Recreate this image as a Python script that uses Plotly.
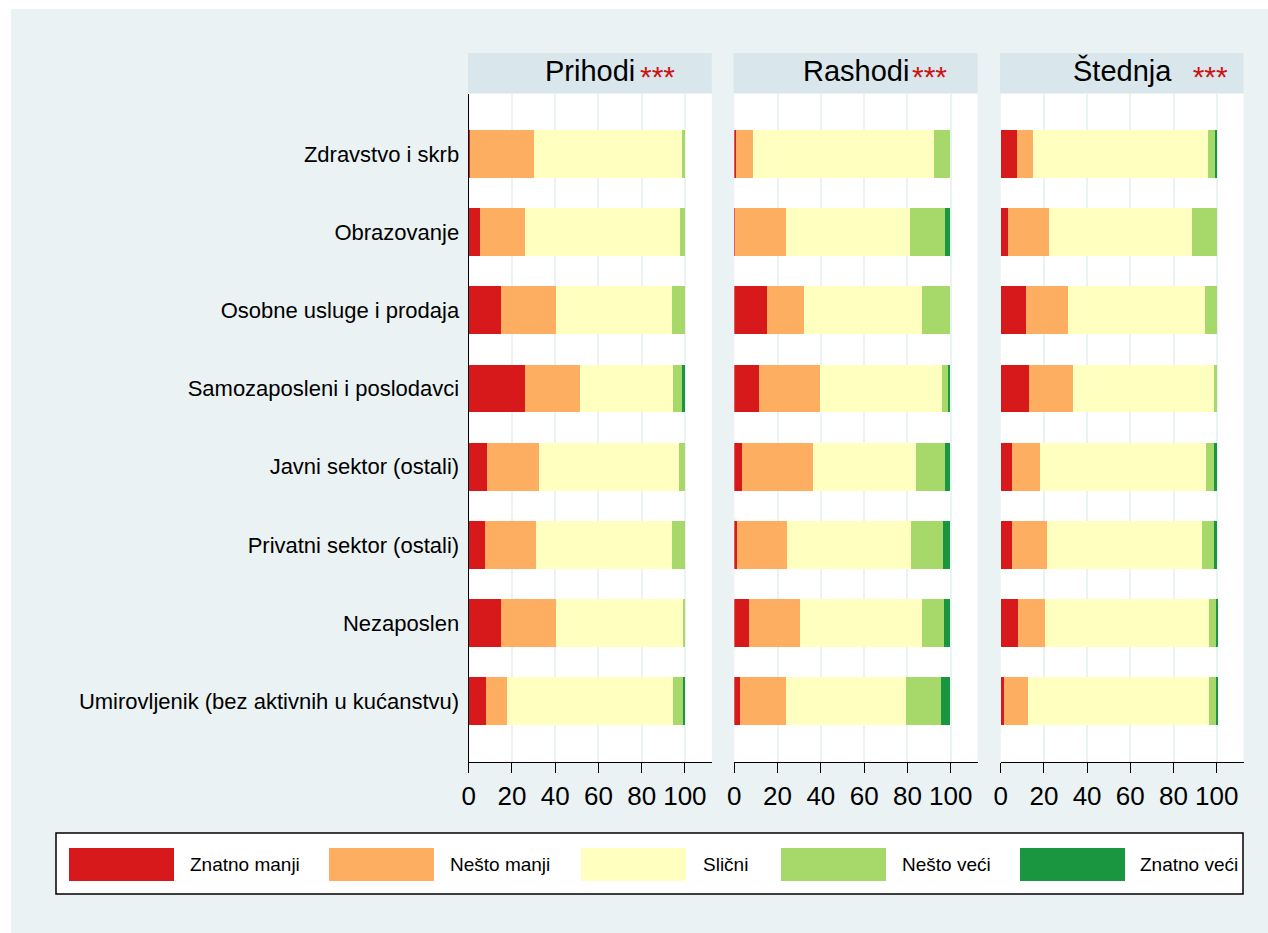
import plotly.graph_objects as go

# ---------------- data ----------------
categories = [
    "Zdravstvo i skrb",
    "Obrazovanje",
    "Osobne usluge i prodaja",
    "Samozaposleni i poslodavci",
    "Javni sektor (ostali)",
    "Privatni sektor (ostali)",
    "Nezaposlen",
    "Umirovljenik (bez aktivnih u kućanstvu)",
]
responses = ["Znatno manji", "Nešto manji", "Slični", "Nešto veći", "Znatno veći"]
colors = ["#D7191C", "#FDAE61", "#FFFFBF", "#A6D96A", "#1A9641"]
panels = ["Prihodi", "Rashodi", "Štednja"]
stars = ["***", "***", " ***"]
x_ticks = [0, 20, 40, 60, 80, 100]

prihodi_znatno_manji = [0.5, 5.2, 14.9, 25.7, 8.5, 7.2, 14.8, 8.0]
prihodi_nesto_manji = [29.5, 20.8, 25.5, 25.8, 24.0, 23.6, 25.3, 9.6]
prihodi_slicni = [68.3, 71.8, 53.3, 43.0, 64.7, 62.9, 59.0, 76.9]
prihodi_nesto_veci = [1.7, 2.2, 6.3, 3.8, 2.8, 6.3, 0.9, 4.6]
prihodi_znatno_veci = [0.0, 0.0, 0.0, 1.7, 0.0, 0.0, 0.0, 0.9]

rashodi_znatno_manji = [0.8, 0.6, 15.3, 11.7, 3.9, 1.2, 6.9, 2.8]
rashodi_nesto_manji = [7.8, 23.2, 17.1, 28.0, 32.8, 23.2, 23.7, 21.0]
rashodi_slicni = [83.8, 57.5, 54.5, 56.4, 47.6, 57.4, 56.3, 55.8]
rashodi_nesto_veci = [7.6, 16.2, 13.1, 2.8, 13.2, 14.7, 10.3, 15.9]
rashodi_znatno_veci = [0.0, 2.5, 0.0, 1.1, 2.5, 3.5, 2.8, 4.5]

stednja_znatno_manji = [7.6, 3.3, 11.8, 12.8, 5.0, 5.3, 7.9, 1.4]
stednja_nesto_manji = [7.1, 19.0, 19.2, 20.3, 13.0, 16.2, 12.5, 11.1]
stednja_slicni = [81.1, 66.1, 63.4, 65.4, 76.7, 71.5, 75.9, 83.8]
stednja_nesto_veci = [3.3, 11.6, 5.6, 1.5, 4.1, 5.8, 3.4, 3.4]
stednja_znatno_veci = [0.9, 0.0, 0.0, 0.0, 1.2, 1.2, 0.3, 0.3]

panel_data = [
    [prihodi_znatno_manji, prihodi_nesto_manji, prihodi_slicni, prihodi_nesto_veci, prihodi_znatno_veci],
    [rashodi_znatno_manji, rashodi_nesto_manji, rashodi_slicni, rashodi_nesto_veci, rashodi_znatno_veci],
    [stednja_znatno_manji, stednja_nesto_manji, stednja_slicni, stednja_nesto_veci, stednja_znatno_veci],
]

# ---------------- layout geometry (page pixels) ----------------
W, H = 1268, 933
BG = "#EAF2F3"
STRIP = "#D9E6EB"
FONT = "Liberation Sans, Arial, sans-serif"

panel_x = [(468.7, 711.7), (734.3, 977.5), (1000.7, 1243.5)]
plot_top, plot_bot = 94.0, 762.3
strip_top, strip_bot = 53.0, 93.0
title_right = [636.0, 908.0, 1172.0]


def px(x):
    return x / W


def py(y):
    return 1 - y / H


fig = go.Figure()
ypos = list(range(1, len(categories) + 1))

for p in range(3):
    xa = "x" if p == 0 else f"x{p + 1}"
    ya = "y" if p == 0 else f"y{p + 1}"
    for r in range(5):
        fig.add_trace(go.Bar(
            y=ypos, x=panel_data[p][r], orientation="h",
            marker=dict(color=colors[r], line=dict(width=0)),
            width=0.61, name=responses[r], showlegend=False,
            xaxis=xa, yaxis=ya,
        ))

layout = dict(
    width=W, height=H,
    margin=dict(l=0, r=0, t=0, b=0, pad=0, autoexpand=False),
    paper_bgcolor=BG, plot_bgcolor="white",
    barmode="stack", bargap=0,
    font=dict(family=FONT, color="black"),
    showlegend=False,
)

for p in range(3):
    xk = "xaxis" if p == 0 else f"xaxis{p + 1}"
    yk = "yaxis" if p == 0 else f"yaxis{p + 1}"
    ya = "y" if p == 0 else f"y{p + 1}"
    xa = "x" if p == 0 else f"x{p + 1}"
    layout[xk] = dict(
        domain=[px(panel_x[p][0]), px(panel_x[p][1])], anchor=ya,
        range=[0, 112.4], tickvals=x_ticks, ticktext=[str(t) for t in x_ticks],
        showgrid=True, gridcolor=BG, gridwidth=1.6, zeroline=False,
        showline=True, linecolor="black", linewidth=1.3,
        ticks="outside", ticklen=10, tickwidth=1.3, tickcolor="black",
        tickfont=dict(size=26, family=FONT, color="black"),
        automargin=False, fixedrange=True,
    )
    layout[yk] = dict(
        domain=[py(plot_bot), py(plot_top)], anchor=xa,
        range=[8.78, 0.235], tickvals=ypos, ticktext=categories,
        showticklabels=(p == 0), showgrid=False, zeroline=False,
        showline=(p == 0), linecolor="black", linewidth=1.3,
        ticks="", tickfont=dict(size=22, family=FONT, color="black"),
        ticklabelstandoff=4,
        automargin=False, fixedrange=True,
    )

shapes = []
annotations = []

# white frame on the top and left edges, as in the reference image
shapes.append(dict(type="rect", xref="paper", yref="paper", x0=0, x1=px(11), y0=0, y1=1,
                   fillcolor="white", line=dict(width=0), layer="below"))
shapes.append(dict(type="rect", xref="paper", yref="paper", x0=0, x1=1, y0=py(9), y1=1,
                   fillcolor="white", line=dict(width=0), layer="below"))

# panel strips
for p in range(3):
    x0, x1 = panel_x[p]
    shapes.append(dict(type="rect", xref="paper", yref="paper", x0=px(x0 - 0.7), x1=px(x1),
                       y0=py(strip_bot), y1=py(strip_top), fillcolor=STRIP, line=dict(width=0)))
    annotations.append(dict(xref="paper", yref="paper", x=px((x0 + x1) / 2), y=py(70.5),
                            xanchor="center", yanchor="middle", showarrow=False,
                            text=panels[p], font=dict(size=29, family=FONT, color="black")))
    annotations.append(dict(xref="paper", yref="paper", x=px(title_right[p] + 2), y=py(76),
                            xanchor="left", yanchor="middle", showarrow=False,
                            text=stars[p].replace(" ", "&nbsp;&nbsp;"),
                            font=dict(size=30, family=FONT, color="#CC1414")))

# legend box
shapes.append(dict(type="rect", xref="paper", yref="paper", x0=px(56), x1=px(1243),
                   y0=py(894), y1=py(833), fillcolor="white", line=dict(color="black", width=1.5)))
sw_left = [69, 329, 581, 781, 1020]
lab_left = [188, 448, 701, 900, 1138]
for r in range(5):
    shapes.append(dict(type="rect", xref="paper", yref="paper", x0=px(sw_left[r]), x1=px(sw_left[r] + 105),
                       y0=py(881), y1=py(848), fillcolor=colors[r], line=dict(width=0)))
    annotations.append(dict(xref="paper", yref="paper", x=px(lab_left[r]), y=py(864.5),
                            xanchor="left", yanchor="middle", showarrow=False,
                            text=responses[r], font=dict(size=19, family=FONT, color="black")))

layout["shapes"] = shapes
layout["annotations"] = annotations
fig.update_layout(**layout)

fig.write_html(
    "out.html",
    config={"displayModeBar": False},
    post_script="document.body.style.margin='0px';document.body.style.overflow='hidden';",
)
